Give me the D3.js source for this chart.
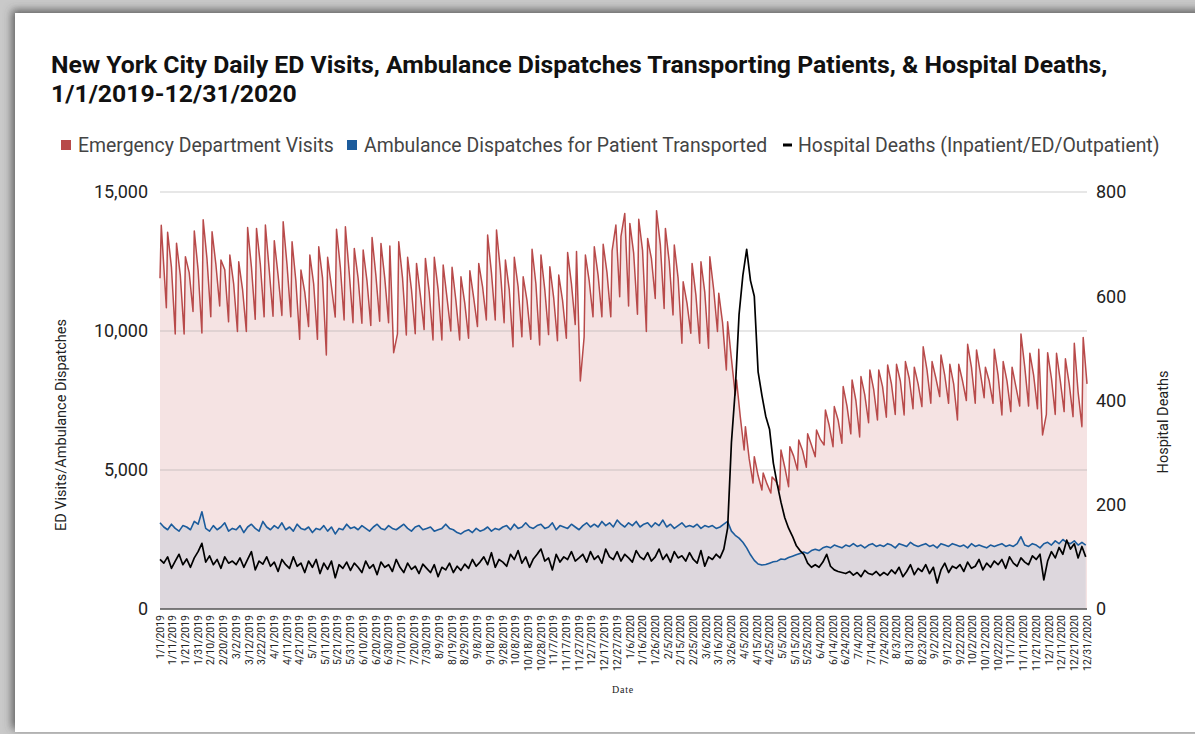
<!DOCTYPE html>
<html>
<head>
<meta charset="utf-8">
<script src="https://cdn.jsdelivr.net/npm/d3@7"></script>
<style>
  body { margin: 0; background: #fff; }
  svg { display: block; font-family: Roboto, "Noto Sans", sans-serif; }
</style>
</head>
<body>
<svg id="chart" width="1195" height="734"></svg>
<script>
// ________ data ________
const seriesNames = ['Emergency Department Visits', 'Ambulance Dispatches for Patient Transported', 'Hospital Deaths (Inpatient/ED/Outpatient)'];
const leftTicks = [0, 5000, 10000, 15000];
const rightTicks = [0, 200, 400, 600, 800];

// ED visits: weekly Monday highs (from 1/7/2019), Thursdays (from 1/10/2019) and Sunday lows (from 1/6/2019)
const edPeakMon = [
  13550, 13160, 12670, 13600, 14000, 13570, 12550, 12730, 12490, 13720,
  13690, 13810, 13250, 13930, 13210, 12190, 12730, 13030, 12650, 13660,
  13750, 12970, 12910, 13360, 13150, 13060, 13210, 12650, 12430, 12610,
  12650, 12370, 12290, 11950, 12170, 12430, 13450, 13630, 12550, 12650,
  11950, 12940, 12730, 12310, 12010, 12820, 12860, 12730, 13030, 13120,
  12880, 13400, 13870, 14020, 13330, 14330, 13690, 13090, 11770, 12430,
  12490, 12670, 11360, 10330, 8240, 6560, 5480, 4890, 4750, 5720,
  5840, 6080, 6300, 6440, 7160, 7280, 8000, 8240, 8360, 8600,
  8600, 8780, 8800, 8900, 8700, 9430, 8900, 9140, 8800, 8800,
  9520, 9320, 8700, 9340, 8900, 8700, 9890, 9200, 9340, 9220,
  9200, 9000, 9560, 9770
];
const edThu = [
  12300, 12000, 12100, 12200, 12600, 12400, 12200, 11700, 11500, 12300,
  12400, 12200, 12000, 12400, 11800, 11400, 11700, 11900, 11600, 12300,
  12100, 11900, 11800, 12000, 11900, 9220, 11900, 11500, 11300, 11400,
  11500, 11200, 11100, 11000, 11200, 11600, 12100, 12200, 11500, 11600,
  11100, 11700, 11500, 11200, 11100, 11700, 8200, 11800, 12000, 12100,
  13810, 14230, 12800, 12900, 12600, 13100, 12500, 11900, 11000, 11300,
  11400, 11500, 10300, 9000, 6900, 5400, 4800, 4500, 4600, 5100,
  5500, 5700, 5900, 6100, 6600, 6800, 7300, 7500, 7700, 7900,
  8000, 8100, 8200, 8300, 8100, 8600, 8300, 8400, 8100, 8200,
  8700, 8500, 8200, 8400, 8200, 8000, 8700, 8400, 6260, 8300,
  8200, 8100, 7800
];
const edTroughSun = [
  10840, 9890, 9890, 10700, 9930, 10510, 10900, 10330, 9980, 9980,
  10420, 10510, 10530, 10560, 10510, 9700, 10160, 9700, 9140, 10500,
  10400, 10300, 10280, 10200, 10350, 10300, 9900, 9860, 9900, 10050,
  9680, 9680, 10000, 9680, 9740, 10160, 10400, 10400, 10300, 9430,
  9790, 9700, 9500, 9870, 9650, 9740, 10230, 9790, 10510, 10510,
  10510, 11230, 10900, 10600, 9980, 11170, 10810, 10580, 9560, 9920,
  9560, 9380, 9980, 8600, 7700, 5720, 4530, 4280, 4170, 4280,
  4400, 5000, 5100, 5480, 5900, 5840, 5960, 6300, 6190, 6700,
  6800, 6900, 7000, 6980, 7200, 7280, 7400, 7640, 7400, 6800,
  7500, 7400, 7600, 7400, 6980, 7100, 7300, 7300, 7200, 7000,
  7000, 7100, 6920, 6560
];
// ED visits: first days and last day
const edExtra = [['1/1/2019', 11900], ['1/2/2019', 13800], ['12/31/2020', 8100]];

// ambulance dispatches and hospital deaths, every 3rd day from 1/1/2019
const sampleEvery = 3;
const ambulance = [
  3100, 2950, 2850, 3050, 2900, 2800, 3000, 2950, 2850, 3150,
  3050, 3500, 2900, 2800, 3000, 2850, 2950, 3100, 2800, 2900,
  2850, 3000, 2750, 2950, 3050, 2900, 2800, 3150, 2950, 2850,
  3000, 2900, 3100, 2850, 2950, 2800, 3050, 2900, 2850, 2950,
  2750, 2900, 2850, 3000, 2800, 2950, 2700, 2900, 2850, 3050,
  2900, 2950, 2850, 3000, 2900, 2800, 2950, 3050, 2900, 2850,
  3000, 2900, 2850, 2950, 3050, 2900, 2800, 2950, 3000, 2850,
  2900, 2950, 2800, 2850, 2900, 3050, 2900, 2850, 2750, 2700,
  2800, 2850, 2750, 2900, 2800, 2850, 2950, 2800, 2900, 2850,
  2950, 3000, 2850, 3050, 2900, 2950, 3100, 2950, 2900, 3000,
  3050, 2900, 2950, 3100, 2850, 3000, 2950, 2900, 3050, 2950,
  2850, 3000, 3100, 2950, 3050, 2950, 3150, 3000, 3100, 2950,
  3200, 3050, 2950, 3100, 3000, 3150, 2950, 3050, 3100, 2950,
  3100, 3000, 3200, 2950, 3050, 2900, 3000, 3100, 2950, 3000,
  2950, 3050, 2900, 3000, 2950, 3000, 2900, 2950, 3050, 3150,
  2800, 2650, 2550, 2400, 2200, 1950, 1750, 1620, 1580, 1600,
  1650, 1700, 1720, 1800, 1780, 1850, 1900, 1950, 2000, 2050,
  2000, 2100, 2150, 2100, 2200, 2250, 2200, 2300, 2250, 2200,
  2300, 2250, 2350, 2250, 2300, 2200, 2300, 2350, 2250, 2300,
  2250, 2350, 2300, 2200, 2350, 2300, 2250, 2400, 2300, 2250,
  2300, 2350, 2250, 2300, 2200, 2350, 2300, 2250, 2350, 2300,
  2250, 2300, 2200, 2350, 2250, 2300, 2250, 2200, 2300, 2250,
  2300, 2350, 2250, 2300, 2250, 2350, 2600, 2300, 2250, 2350,
  2300, 2200, 2350, 2400, 2300, 2450, 2350, 2500, 2400, 2350,
  2450, 2300, 2400, 2300
];
const deaths = [
  95, 88, 100, 78, 92, 105, 85, 96, 80, 98,
  110, 126, 90, 102, 85, 95, 78, 100, 88, 92,
  85, 98, 80, 95, 110, 75, 92, 86, 100, 82,
  90, 72, 95, 85, 78, 100, 82, 88, 70, 92,
  80, 95, 68, 88, 76, 92, 60, 85, 78, 90,
  74, 88, 80, 70, 92, 78, 85, 66, 90, 80,
  85, 72, 95, 80, 70, 88, 76, 82, 68, 86,
  78, 70, 85, 62, 80, 75, 88, 70, 82, 74,
  86, 78, 95, 82, 90, 100, 85, 108, 80, 95,
  90, 82, 105, 95, 112, 88, 100, 80, 96, 105,
  115, 92, 98, 75, 105, 90, 100, 95, 110, 92,
  98, 105, 90, 110, 95, 102, 88, 115, 100, 95,
  110, 92, 105, 98, 90, 112, 100, 95, 108, 92,
  100, 115, 95, 105, 90, 110, 98, 102, 92, 108,
  95, 88, 112, 82, 100, 95, 105, 98, 115, 155,
  320, 420, 565, 640, 690, 630, 600, 455, 410, 370,
  345, 280, 240, 205, 175, 155, 140, 122, 112, 105,
  88, 80, 85, 80, 90, 105, 82, 75, 72, 70,
  68, 72, 65, 70, 62, 74, 68, 66, 72, 64,
  70, 65, 75, 68, 80, 62, 72, 85, 66, 78,
  72, 85, 68, 80, 50, 75, 88, 70, 82, 78,
  85, 72, 90, 78, 82, 95, 75, 88, 80, 92,
  85, 95, 78, 100, 88, 82, 98, 90, 85, 102,
  95, 105, 56, 92, 110, 98, 118, 105, 132, 115,
  125, 98, 120, 100
];

// ________ helpers ________
const DAY = 864e5;
const startDate = new Date(Date.UTC(2019, 0, 1));
const endDate = new Date(Date.UTC(2020, 11, 31));
const dayDate = d => new Date(startDate.getTime() + d * DAY);
const parseDate = d3.utcParse('%m/%d/%Y');
const fmtDate = d3.utcFormat('%-m/%-d/%Y');

const edPoints = [];
edPeakMon.forEach((v, k) => edPoints.push({date: dayDate(6 + 7 * k), value: v}));
edThu.forEach((v, k) => edPoints.push({date: dayDate(9 + 7 * k), value: v}));
edTroughSun.forEach((v, k) => edPoints.push({date: dayDate(5 + 7 * k), value: v}));
edExtra.forEach(([s, v]) => edPoints.push({date: parseDate(s), value: v}));
edPoints.sort((a, b) => a.date - b.date);

const ambPoints = ambulance.map((v, i) => ({date: dayDate(i * sampleEvery), value: v}));
const deathPoints = deaths.map((v, i) => ({date: dayDate(i * sampleEvery), value: v}));

// ________ layout ________
const svg = d3.select('#chart');
const plot = {left: 160, right: 1087, top: 192, bottom: 609};

const x = d3.scaleUtc().domain([startDate, endDate]).range([plot.left, plot.right]);
const yL = d3.scaleLinear().domain([0, 15000]).range([plot.bottom, plot.top]);
const yR = d3.scaleLinear().domain([0, 800]).range([plot.bottom, plot.top]);

// card with shadow
const defs = svg.append('defs');
const f = defs.append('filter').attr('id', 'shadow').attr('x', '-5%').attr('y', '-5%').attr('width', '110%').attr('height', '110%');
f.append('feDropShadow').attr('dx', -3).attr('dy', -3).attr('stdDeviation', 4).attr('flood-color', '#444').attr('flood-opacity', 0.8);
svg.append('rect').attr('width', 1195).attr('height', 734).attr('fill', '#c9c9c9');
svg.append('rect').attr('x', 15).attr('y', 13).attr('width', 1200).attr('height', 719)
  .attr('fill', '#fff').attr('filter', 'url(#shadow)');

// title
const title = svg.append('text').attr('x', 51).attr('y', 73)
  .style('font-size', '24.8px').style('font-weight', 700).attr('fill', '#111');
title.append('tspan').text('New York City Daily ED Visits, Ambulance Dispatches Transporting Patients, & Hospital Deaths,');
title.append('tspan').attr('x', 51).attr('dy', 28.5).text('1/1/2019-12/31/2020');

// legend
const legendItems = [
  {name: seriesNames[0], color: '#b84a4a', x: 61, kind: 'box'},
  {name: seriesNames[1], color: '#1c5c9c', x: 347, kind: 'box'},
  {name: seriesNames[2], color: '#000', x: 783, kind: 'line'}
];
const lg = svg.append('g').selectAll('g').data(legendItems).join('g')
  .attr('transform', d => `translate(${d.x},145)`);
lg.filter(d => d.kind === 'box').append('rect')
  .attr('x', 0).attr('y', -5).attr('width', 10).attr('height', 10).attr('fill', d => d.color);
lg.filter(d => d.kind === 'line').append('rect')
  .attr('x', 0).attr('y', -1.5).attr('width', 9).attr('height', 3).attr('fill', d => d.color);
lg.append('text').attr('x', d => d.kind === 'box' ? 17 : 15).attr('y', 6.5)
  .style('font-size', '19.4px').attr('fill', '#444').text(d => d.name);

// areas
const areaL = d3.area().x(d => x(d.date)).y0(yL(0)).y1(d => yL(d.value));
const lineL = d3.line().x(d => x(d.date)).y(d => yL(d.value));
const lineR = d3.line().x(d => x(d.date)).y(d => yR(d.value));

svg.append('path').datum(edPoints).attr('d', areaL).attr('fill', '#f5e3e3');
svg.append('path').datum(ambPoints).attr('d', areaL).attr('fill', '#ddd7dd');

// gridlines
svg.append('g').selectAll('line').data(leftTicks.filter(d => d > 0)).join('line')
  .attr('x1', plot.left).attr('x2', plot.right)
  .attr('y1', d => yL(d)).attr('y2', d => yL(d))
  .attr('stroke', '#a9a9a9').attr('stroke-opacity', 0.55).attr('stroke-width', 1);

// lines
svg.append('path').datum(edPoints).attr('d', lineL)
  .attr('fill', 'none').attr('stroke', '#b84a4a').attr('stroke-width', 1.5).attr('stroke-linejoin', 'round');
svg.append('path').datum(ambPoints).attr('d', lineL)
  .attr('fill', 'none').attr('stroke', '#1c5c9c').attr('stroke-width', 1.6).attr('stroke-linejoin', 'round');
svg.append('path').datum(deathPoints).attr('d', lineR)
  .attr('fill', 'none').attr('stroke', '#000').attr('stroke-width', 1.7).attr('stroke-linejoin', 'round');

// baseline
svg.append('line').attr('x1', plot.left).attr('x2', plot.right)
  .attr('y1', plot.bottom).attr('y2', plot.bottom).attr('stroke', '#555').attr('stroke-width', 1.5);

// left axis labels
svg.append('g').selectAll('text').data(leftTicks).join('text')
  .attr('x', 148).attr('y', d => yL(d)).attr('dy', '0.35em').attr('text-anchor', 'end')
  .style('font-size', '18px').attr('fill', '#222').text(d3.format(','));
// right axis labels
svg.append('g').selectAll('text').data(rightTicks).join('text')
  .attr('x', 1096).attr('y', d => yR(d)).attr('dy', '0.35em')
  .style('font-size', '18px').attr('fill', '#222').text(d => d);

// axis titles
svg.append('text').attr('transform', 'translate(66,425) rotate(-90)').attr('text-anchor', 'middle')
  .style('font-size', '14.5px').attr('fill', '#222').text('ED Visits/Ambulance Dispatches');
svg.append('text').attr('transform', 'translate(1168,422) rotate(-90)').attr('text-anchor', 'middle')
  .style('font-size', '14.5px').attr('fill', '#222').text('Hospital Deaths');

// x tick labels, every 10 days
const xTicks = d3.range(0, 731, 10).map(dayDate);
svg.append('g').selectAll('text').data(xTicks).join('text')
  .attr('transform', d => `translate(${x(d)},615) rotate(-90)`)
  .attr('text-anchor', 'end').attr('dy', '0.35em')
  .style('font-size', '10.5px').attr('fill', '#222').text(fmtDate);

svg.append('text').attr('x', 623).attr('y', 693).attr('text-anchor', 'middle')
  .style('font-family', '"Liberation Serif", serif').style('font-size', '10px')
  .style('letter-spacing', '0.8px').attr('fill', '#222').text('Date');
</script>
</body>
</html>
